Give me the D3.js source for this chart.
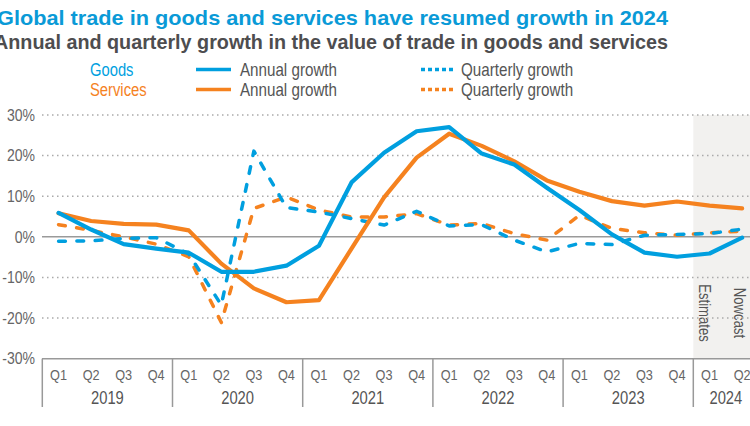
<!DOCTYPE html>
<html>
<head>
<meta charset="utf-8">
<script src="https://cdn.jsdelivr.net/npm/d3@7"></script>
<style>
  html, body { margin: 0; padding: 0; background: #fff; overflow: hidden; }
  svg { display: block; }
  text { font-family: "Liberation Sans", Arial, sans-serif; }
</style>
</head>
<body>
<svg id="chart" width="750" height="426"></svg>
<script>
// ---------- data ----------
const years = ["2019", "2020", "2021", "2022", "2023", "2024"];
const quarters = ["Q1", "Q2", "Q3", "Q4"];
const yTicks = [-30, -20, -10, 0, 10, 20, 30];
const goodsAnnual      = [5.9, 1.8, -1.8, -2.9, -3.9, -8.6, -8.6, -7.1, -2.2, 13.4, 20.7, 26.0, 27.0, 20.5, 17.8, 12.1, 6.6, 0.6, -3.9, -4.9, -4.1, -0.2];
const servicesAnnual   = [5.8, 3.9, 3.2, 3.0, 1.6, -6.6, -12.7, -16.1, -15.6, -2.9, 9.7, 19.5, 25.4, 22.4, 18.6, 13.9, 11.1, 8.8, 7.7, 8.7, 7.7, 7.0];
const goodsQuarterly   = [-1.1, -1.0, -0.4, -0.2, -4.2, -16.8, 21.1, 7.2, 6.1, 4.5, 2.9, 6.3, 2.7, 3.0, -0.8, -3.7, -1.6, -1.9, 0.4, 0.6, 0.8, 1.9];
const servicesQuarterly= [3.0, 1.6, 0.0, -1.8, -4.9, -21.1, 7.0, 9.8, 6.6, 4.9, 4.9, 5.7, 2.9, 3.3, 0.8, -0.8, 5.3, 2.1, 1.0, 0.4, 1.0, 1.4];
const shadedYear = "2024";
const shadeLabels = ["Estimates", "Nowcast"];

const title = "Global trade in goods and services have resumed growth in 2024";
const subtitle = "Annual and quarterly growth in the value of trade in goods and services";

// ---------- build categories ----------
const nQ = goodsAnnual.length;
const cats = [];
years.forEach(y => quarters.forEach(q => { if (cats.length < nQ) cats.push({ key: y + "-" + q, year: y, q: q }); }));

const BLUE = "#009fdf", ORANGE = "#f5821f", GRAY = "#666";
const NARROW = 0.82;

const svg = d3.select("#chart");

// compress text horizontally to mimic a narrow typeface
function narrow(sel, f) {
  sel.each(function () {
    const len = this.getComputedTextLength();
    d3.select(this).attr("textLength", len * (f || NARROW)).attr("lengthAdjust", "spacingAndGlyphs");
  });
  return sel;
}

// ---------- scales ----------
const x = d3.scaleBand().domain(cats.map(d => d.key)).range([42.3, 758.4]).padding(0);
const y = d3.scaleLinear().domain([-30, 30]).range([358.7, 115]);
const cx = k => x(k) + x.bandwidth() / 2;

// ---------- shaded area ----------
const shadeCats = cats.filter(d => d.year === shadedYear);
const shadeX0 = x(shadeCats[0].key);
svg.append("rect")
  .attr("x", shadeX0).attr("y", y(30))
  .attr("width", 750 - shadeX0).attr("height", y(-30) - y(30))
  .attr("fill", "#f2f1ef");

shadeCats.forEach((d, i) => {
  const tx = cx(d.key) + (i === 0 ? -5 : -3);
  narrow(svg.append("text")
    .attr("transform", `translate(${tx},313) rotate(90)`)
    .attr("text-anchor", "middle").attr("dy", "0.35em")
    .attr("font-size", 16).attr("fill", "#555")
    .text(shadeLabels[i]));
});

// ---------- gridlines ----------
const grid = svg.append("g");
yTicks.filter(t => t !== 0 && t !== -30).forEach(t => {
  grid.append("line")
    .attr("x1", 42).attr("x2", 750).attr("y1", y(t)).attr("y2", y(t))
    .attr("stroke", "#aaa").attr("stroke-width", 1.5).attr("stroke-dasharray", "1.5,3.5");
});
grid.append("line")
  .attr("x1", 42).attr("x2", 750).attr("y1", y(0)).attr("y2", y(0))
  .attr("stroke", "#9a9a9a").attr("stroke-width", 1.5);

// y tick labels
narrow(svg.append("g").selectAll("text").data(yTicks).join("text")
  .attr("x", 35).attr("y", d => y(d)).attr("dy", "0.35em")
  .attr("text-anchor", "end").attr("font-size", 16.5).attr("fill", GRAY)
  .text(d => d + "%"), 0.85);

// ---------- x axis ----------
const axG = svg.append("g");
axG.append("line").attr("x1", 42).attr("x2", 750).attr("y1", y(-30)).attr("y2", y(-30))
  .attr("stroke", "#999").attr("stroke-width", 1.5);
const bounds = years.map(yr => cats.find(c => c.year === yr)).filter(Boolean).map(c => x(c.key));
bounds.forEach(bx => {
  axG.append("line").attr("x1", bx).attr("x2", bx).attr("y1", y(-30)).attr("y2", 407)
    .attr("stroke", "#999").attr("stroke-width", 1.5);
});
narrow(axG.selectAll("text.q").data(cats).join("text").attr("class", "q")
  .attr("x", d => cx(d.key)).attr("y", 380)
  .attr("text-anchor", "middle").attr("font-size", 15.5).attr("fill", GRAY)
  .text(d => d.q));
years.forEach(yr => {
  const yc = cats.filter(c => c.year === yr);
  if (!yc.length) return;
  const x0 = x(yc[0].key), x1 = x(yc[yc.length - 1].key) + x.bandwidth();
  narrow(axG.append("text").attr("x", (x0 + x1) / 2).attr("y", 404)
    .attr("text-anchor", "middle").attr("font-size", 18).attr("fill", "#555")
    .text(yr));
});

// ---------- lines ----------
const line = d3.line().x((d, i) => cx(cats[i].key)).y(d => y(d));
function drawSeries(vals, color, dashed) {
  svg.append("path").datum(vals)
    .attr("d", line)
    .attr("fill", "none").attr("stroke", color)
    .attr("stroke-width", dashed ? 3.5 : 4.2)
    .attr("stroke-linejoin", "round")
    .attr("stroke-linecap", "round")
    .attr("stroke-dasharray", dashed ? "6.8,11.5" : null);
}
drawSeries(servicesQuarterly, ORANGE, true);
drawSeries(goodsQuarterly, BLUE, true);
drawSeries(servicesAnnual, ORANGE, false);
drawSeries(goodsAnnual, BLUE, false);

// ---------- titles ----------
svg.append("text").attr("x", -3).attr("y", 25).attr("font-size", 21)
  .attr("font-weight", "bold").attr("fill", "#0a9ad7").text(title)
  .attr("textLength", 671).attr("lengthAdjust", "spacingAndGlyphs");
svg.append("text").attr("x", -6).attr("y", 49).attr("font-size", 20.5)
  .attr("font-weight", "bold").attr("fill", "#4d4d4f").text(subtitle)
  .attr("textLength", 674).attr("lengthAdjust", "spacingAndGlyphs");

// ---------- legend ----------
const lg = svg.append("g");
const rows = [
  { name: "Goods", color: BLUE, ty: 76 },
  { name: "Services", color: ORANGE, ty: 96 }
];
rows.forEach(r => {
  narrow(lg.append("text").attr("x", 90).attr("y", r.ty).attr("font-size", 18).attr("fill", r.color).text(r.name));
  lg.append("line").attr("x1", 196).attr("x2", 231).attr("y1", r.ty - 6.5).attr("y2", r.ty - 6.5)
    .attr("stroke", r.color).attr("stroke-width", 3.5);
  narrow(lg.append("text").attr("x", 240).attr("y", r.ty).attr("font-size", 18.5).attr("fill", "#555").text("Annual growth"));
  lg.append("line").attr("x1", 421).attr("x2", 453).attr("y1", r.ty - 6.5).attr("y2", r.ty - 6.5)
    .attr("stroke", r.color).attr("stroke-width", 3.5).attr("stroke-dasharray", "4,3");
  narrow(lg.append("text").attr("x", 461).attr("y", r.ty).attr("font-size", 18.5).attr("fill", "#555").text("Quarterly growth"));
});
</script>
</body>
</html>
